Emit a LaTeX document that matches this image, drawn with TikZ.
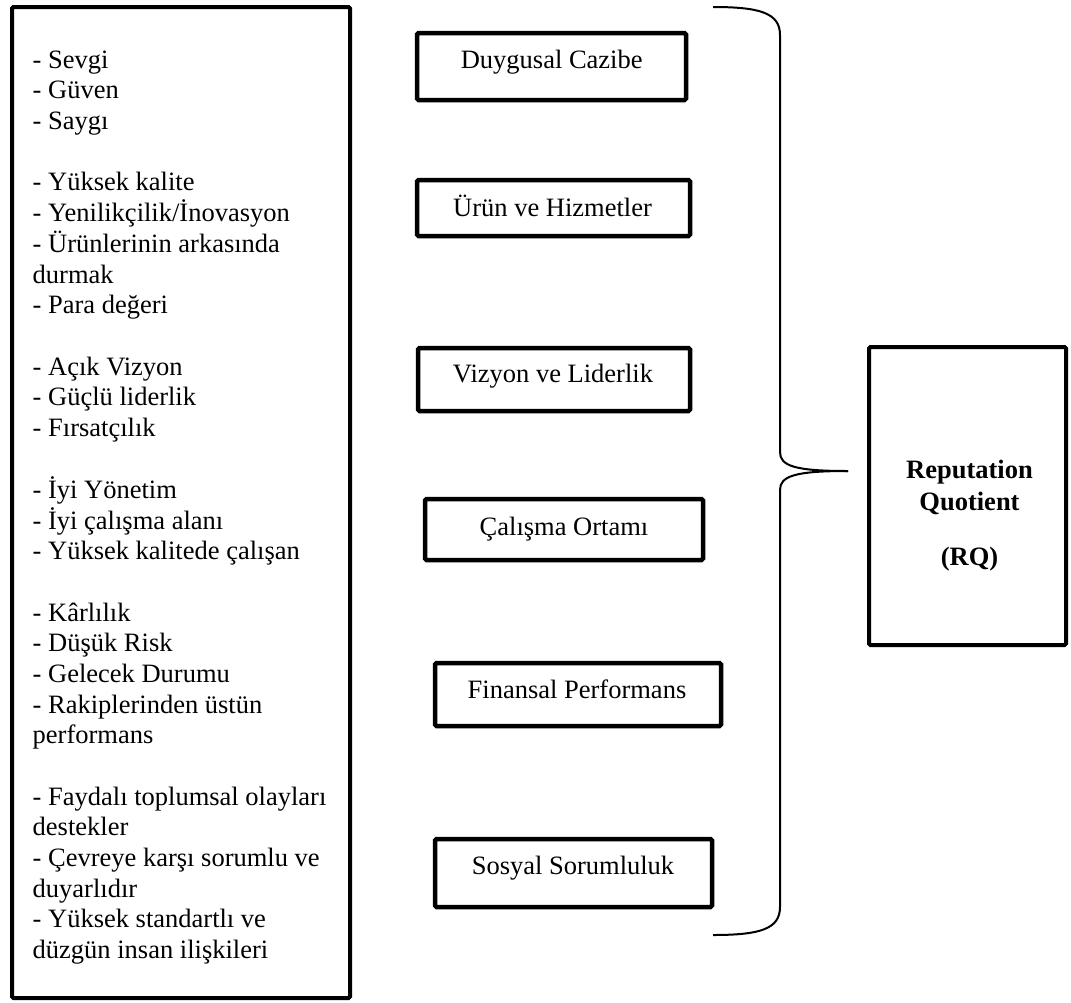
\documentclass[tikz,border=0pt]{standalone}
\usepackage{fontspec}
\setmainfont{Liberation Serif}
\begin{document}
\begin{tikzpicture}[x=1pt,y=-1pt,
  frame/.style={draw=black, line width=4pt, inner sep=0pt, rounded corners=1.5pt},
  factor/.style={draw=black, line width=4.5pt, inner sep=0pt, rounded corners=1.5pt},
  lbl/.style={inner sep=0pt, anchor=base, font=\fontsize{26.5}{30.65}\selectfont},
  rqlbl/.style={lbl, font=\fontsize{26.5}{30.65}\selectfont\bfseries},
  brace/.style={draw=black, line width=2pt}]
\useasboundingbox (0,0) rectangle (1071,1002);

% criteria list
\node[frame, minimum width=338pt, minimum height=991pt] (crit) at (181,502.5) {};
\node[anchor=base west, inner sep=0pt, font=\fontsize{26.5}{30.65}\selectfont] (items) at (32.5,68.3) {%
\begin{tabular}[t]{@{}l@{}}
- Sevgi\\
- Güven\\
- Saygı\\
\mbox{}\\
- Yüksek kalite\\
- Yenilikçilik/İnovasyon\\
- Ürünlerinin arkasında\\
durmak\\
- Para değeri\\
\mbox{}\\
- Açık Vizyon\\
- Güçlü liderlik\\
- Fırsatçılık\\
\mbox{}\\
- İyi Yönetim\\
- İyi çalışma alanı\\
- Yüksek kalitede çalışan\\
\mbox{}\\
- Kârlılık\\
- Düşük Risk\\
- Gelecek Durumu\\
- Rakiplerinden üstün\\
performans\\
\mbox{}\\
- Faydalı toplumsal olayları\\
destekler\\
- Çevreye karşı sorumlu ve\\
duyarlıdır\\
- Yüksek standartlı ve\\
düzgün insan ilişkileri
\end{tabular}};

% reputation dimensions
\node[factor, minimum width=269pt, minimum height=67pt] (dc) at (551.5,66.5) {};
\node[lbl] (dc-t) at (551.7,68.3) {Duygusal Cazibe};

\node[factor, minimum width=273pt, minimum height=56pt] (uh) at (553.5,208) {};
\node[lbl] (uh-t) at (552.5,216) {Ürün ve Hizmetler};

\node[factor, minimum width=272pt, minimum height=63pt] (vl) at (554,379.5) {};
\node[lbl] (vl-t) at (553,382.7) {Vizyon ve Liderlik};

\node[factor, minimum width=278pt, minimum height=61pt] (co) at (564,529.5) {};
\node[lbl] (co-t) at (564,535) {Çalışma Ortamı};

\node[factor, minimum width=286pt, minimum height=63pt] (fp) at (578,694.5) {};
\node[lbl] (fp-t) at (577,698.3) {Finansal Performans};

\node[factor, minimum width=277pt, minimum height=68pt] (ss) at (573.5,873) {};
\node[lbl] (ss-t) at (573,874) {Sosyal Sorumluluk};

% result box
\node[frame, minimum width=197pt, minimum height=298pt] (rq) at (967.5,496) {};
\node[rqlbl] (rq-a) at (969.5,478) {Reputation};
\node[rqlbl] (rq-b) at (969.5,510) {Quotient};
\node[rqlbl] (rq-c) at (969.5,565) {(RQ)};

% right brace
\coordinate (btop) at (713,7);
\coordinate (tip) at (848,471);
\coordinate (bbot) at (713,935);
\draw[brace] (btop) .. controls (760,7) and (780,13) .. (780,35) -- (780,452)
  .. controls (780,466) and (795,471) .. (tip);
\draw[brace] (tip) .. controls (795,471) and (780,476) .. (780,490) -- (780,907)
  .. controls (780,929) and (760,935) .. (bbot);
\end{tikzpicture}
\end{document}
